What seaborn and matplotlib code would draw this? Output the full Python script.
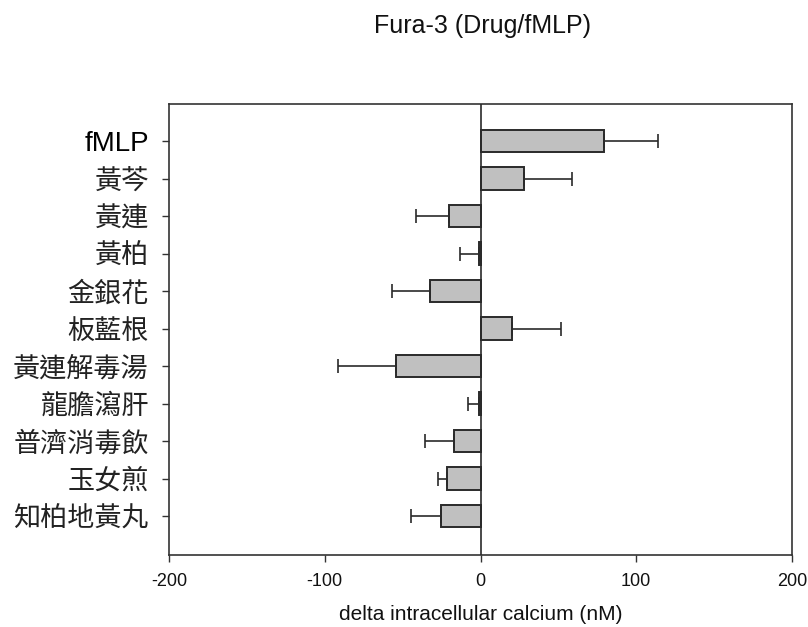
import matplotlib
matplotlib.use("Agg")
import matplotlib.pyplot as plt
import seaborn as sns
import numpy as np

# Treatments, mean change in intracellular calcium and SEM
treatments = ["fMLP", "黃芩", "黃連", "黃柏", "金銀花", "板藍根",
              "黃連解毒湯", "龍膽瀉肝", "普濟消毒飲", "玉女煎", "知柏地黃丸"]
delta_ca = [79, 28, -20.5, -1, -32.5, 20, -54.5, -1, -17, -21.5, -25.5]
sem = [35, 30.5, 21, 12, 24.5, 31.5, 37, 7, 18.5, 5.5, 19]
x_ticks = [-200, -100, 0, 100, 200]

sns.set_style("ticks")
plt.rcParams["font.family"] = ["Liberation Sans", "Noto Sans CJK TC", "DejaVu Sans"]
plt.rcParams["text.color"] = "#111111"

fig = plt.figure(figsize=(8.08, 6.27), dpi=100)
ax = fig.add_axes([169 / 808, 72 / 627, 623 / 808, 451 / 627])

sns.barplot(x=delta_ca, y=treatments, orient="h", color="#c0c0c0",
            saturation=1, edgecolor="#2a2a2a", linewidth=1.4, width=0.6,
            errorbar=None, ax=ax)

# one-sided error bars pointing away from zero
vals = np.array(delta_ca, dtype=float)
errs = np.array(sem, dtype=float)
lower = np.where(vals < 0, errs, 0)
upper = np.where(vals >= 0, errs, 0)
ypos = np.arange(len(treatments))
ax.errorbar(vals, ypos, xerr=[lower, upper], fmt="none", ecolor="#2a2a2a",
            elinewidth=1.2, capsize=5, capthick=1.2, zorder=1)

ax.axvline(0, color="#2a2a2a", lw=1.2, zorder=3)

ax.set_xlim(-200, 200)
ax.set_ylim(11.04, -0.99)
ax.set_xticks(x_ticks)
ax.set_xticklabels([str(t) for t in x_ticks], fontsize=13, color="#111111")
ax.set_ylabel("")
ax.set_xlabel("delta intracellular calcium (nM)", fontsize=15, labelpad=11,
              color="#111111")

for side in ["top", "right", "bottom", "left"]:
    ax.spines[side].set_visible(True)
    ax.spines[side].set_color("#333333")
    ax.spines[side].set_linewidth(1.2)

ax.tick_params(axis="x", direction="out", length=5, width=1.0, color="#333333", pad=8)
ax.tick_params(axis="y", direction="out", length=5, width=1.0, color="#333333", pad=9.5)

for lbl in ax.get_yticklabels():
    if lbl.get_text() == "fMLP":
        lbl.set_fontfamily(["Liberation Sans", "DejaVu Sans"])
        lbl.set_fontsize(20)
        lbl.set_color("#000000")
    else:
        lbl.set_fontfamily(["Noto Sans CJK TC", "DejaVu Sans"])
        lbl.set_fontsize(19.5)
        lbl.set_color("#222222")

fig.text(482 / 808, 1 - 26 / 627, "Fura-3 (Drug/fMLP)", ha="center",
         va="center", fontsize=18, color="#111111")

fig.savefig("out.png", dpi=100)
